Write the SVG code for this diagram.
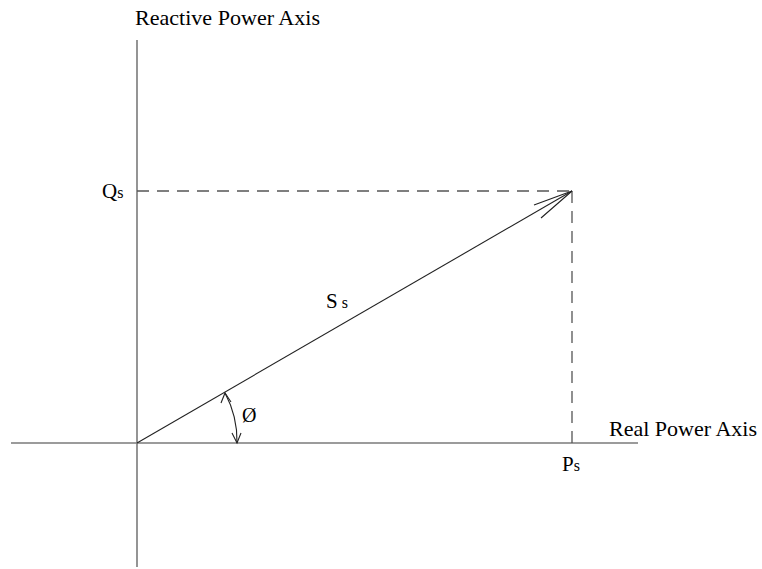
<svg xmlns="http://www.w3.org/2000/svg" width="762" height="569" viewBox="0 0 762 569">
<style>
text{font-family:"Liberation Serif","Times New Roman",serif;fill:#000}
.lbl{font-size:21px}
.axis{stroke:#7a7a7a;stroke-width:1.6;fill:none}
.dash{stroke:#555;stroke-width:1.3;stroke-dasharray:12 8;fill:none}
.vec{stroke:#222;stroke-width:1.1;fill:none}
</style>
<rect width="762" height="569" fill="#fff"/>
<g id="connectors">
<line class="axis" x1="137" y1="40" x2="137" y2="567"/>
<line class="axis" x1="11" y1="443" x2="638" y2="443"/>
<line class="dash" x1="137" y1="191" x2="572" y2="191"/>
<line class="dash" x1="572" y1="191" x2="572" y2="443"/>
<line class="vec" x1="137" y1="443" x2="572" y2="191"/>
<polyline class="vec" points="534,205 572,191 541,218"/>
<path class="vec" d="M225,393 A101,101 0 0 1 237,443"/>
<polyline class="vec" points="221,403 225,393 231,402"/>
<polyline class="vec" points="232,433 237,443 241,433"/>
</g>
<g id="label-reactive"><text class="lbl" x="135" y="25" textLength="185" lengthAdjust="spacingAndGlyphs">Reactive Power Axis</text></g>
<g id="label-real"><text class="lbl" x="609" y="436" textLength="148" lengthAdjust="spacingAndGlyphs">Real Power Axis</text></g>
<g id="label-qs"><text x="102" y="198" font-size="21">Q<tspan font-size="16">s</tspan></text></g>
<g id="label-ps"><text x="562" y="471" font-size="21">P<tspan font-size="16">s</tspan></text></g>
<g id="label-ss"><text x="326" y="308" font-size="21">S<tspan font-size="16" dx="4">s</tspan></text></g>
<g id="label-phi"><text x="242" y="422" font-size="20">Ø</text></g>
</svg>
